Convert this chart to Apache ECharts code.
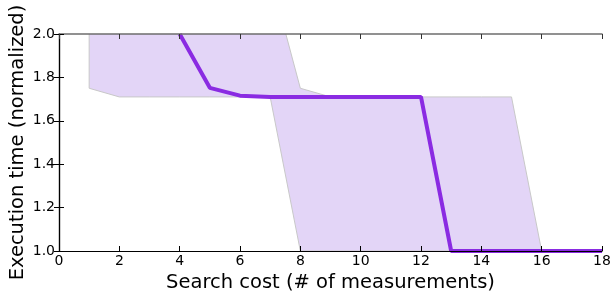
<!DOCTYPE html>
<html>
<head>
<meta charset="utf-8">
<script src="https://cdn.jsdelivr.net/npm/echarts@6/dist/echarts.min.js"></script>
<style>
  html, body { margin: 0; padding: 0; background: #fff; }
  #main { width: 616px; height: 299px; }
</style>
</head>
<body>
<div id="main"></div>
<script>
// search cost (# of measurements)
var bandX = [1, 2, 3, 4, 5, 6, 7, 8, 9, 10, 11, 12, 13, 14, 15, 16, 17, 18];
var bandLow = [1.75, 1.71, 1.71, 1.71, 1.71, 1.71, 1.71, 1.0, 1.0, 1.0, 1.0, 1.0, 1.0, 1.0, 1.0, 1.0, 1.0, 1.0];
var bandHigh = [2.3, 2.3, 2.3, 2.3, 2.3, 2.3, 2.27, 1.75, 1.71, 1.71, 1.71, 1.71, 1.71, 1.71, 1.71, 1.0, 1.0, 1.0];
var medianX = [4, 5, 6, 7, 8, 9, 10, 11, 12, 13, 14, 15, 16, 17, 18];
var medianY = [2.0, 1.752, 1.716, 1.71, 1.71, 1.71, 1.71, 1.71, 1.71, 1.0, 1.0, 1.0, 1.0, 1.0, 1.0];

var xTicks = [0, 2, 4, 6, 8, 10, 12, 14, 16, 18];
var yTicks = [1.0, 1.2, 1.4, 1.6, 1.8, 2.0];

var font = 'DejaVu Sans';

function pairs(xs, ys) {
  var out = [];
  for (var i = 0; i < xs.length; i++) out.push([xs[i], ys[i]]);
  return out;
}

var bandData = [];
for (var i = 0; i < bandX.length; i++) {
  bandData.push([bandX[i], bandLow[i], bandHigh[i]]);
}

// min/max band as one polygon, mapped through the axes
function renderBand(params, api) {
  if (params.dataIndex !== 0) return null;
  var pts = [];
  for (var i = 0; i < bandX.length; i++) pts.push(api.coord([bandX[i], bandHigh[i]]));
  for (var j = bandX.length - 1; j >= 0; j--) pts.push(api.coord([bandX[j], bandLow[j]]));
  return {
    type: 'polygon',
    shape: { points: pts },
    style: { fill: '#e3d5f7', stroke: '#c8c8c8', lineWidth: 1 }
  };
}

var myChart = echarts.init(document.getElementById('main'), null, { renderer: 'canvas' });

var tickStyle = { show: true, inside: true, length: 5, lineStyle: { color: '#000', width: 1 } };

var option = {
  animation: false,
  backgroundColor: '#fff',
  grid: { left: 59, right: 14, top: 34, bottom: 48, outerBoundsMode: 'none', containLabel: false },
  xAxis: [{
    type: 'value',
    min: xTicks[0],
    max: xTicks[xTicks.length - 1],
    interval: 2,
    z: 5,
    name: 'Search cost (# of measurements)',
    nameLocation: 'middle',
    nameGap: 22,
    nameMoveOverlap: false,
    nameTextStyle: { fontFamily: font, fontSize: 19.5, color: '#000' },
    axisLine: { show: true, lineStyle: { color: '#000', width: 1.2 } },
    axisTick: tickStyle,
    splitLine: { show: false },
    axisLabel: { fontFamily: font, fontSize: 14, color: '#000', margin: 3 }
  }, {
    type: 'value',
    position: 'top',
    min: xTicks[0],
    max: xTicks[xTicks.length - 1],
    interval: 2,
    z: 5,
    axisLine: { show: true, lineStyle: { color: '#6e6e6e', width: 1.5 } },
    axisTick: { show: true, inside: true, length: 5, lineStyle: { color: '#333' } },
    splitLine: { show: false },
    axisLabel: { show: false }
  }],
  yAxis: [{
    type: 'value',
    min: 1.0,
    max: 2.0,
    interval: 0.2,
    z: 5,
    name: 'Execution time (normalized)',
    nameLocation: 'middle',
    nameGap: 31,
    nameMoveOverlap: false,
    nameTextStyle: { fontFamily: font, fontSize: 19.5, color: '#000' },
    axisLine: { show: true, lineStyle: { color: '#000', width: 1.2 } },
    axisTick: tickStyle,
    splitLine: { show: false },
    axisLabel: {
      fontFamily: font, fontSize: 14, color: '#000', margin: 4,
      formatter: function (v) { return v.toFixed(1); }
    }
  }, {
    type: 'value',
    position: 'right',
    min: 1.0,
    max: 2.0,
    interval: 0.2,
    z: 5,
    axisLine: { show: true, lineStyle: { color: '#000', width: 1.2 } },
    axisTick: tickStyle,
    splitLine: { show: false },
    axisLabel: { show: false }
  }],
  series: [{
    type: 'custom',
    renderItem: renderBand,
    data: bandData,
    clip: true,
    z: 1
  }, {
    // median
    type: 'line',
    data: pairs(medianX, medianY),
    symbol: 'none',
    lineStyle: { color: '#8a2be2', width: 4 },
    clip: true,
    z: 3
  }]
};

myChart.setOption(option);
</script>
</body>
</html>
